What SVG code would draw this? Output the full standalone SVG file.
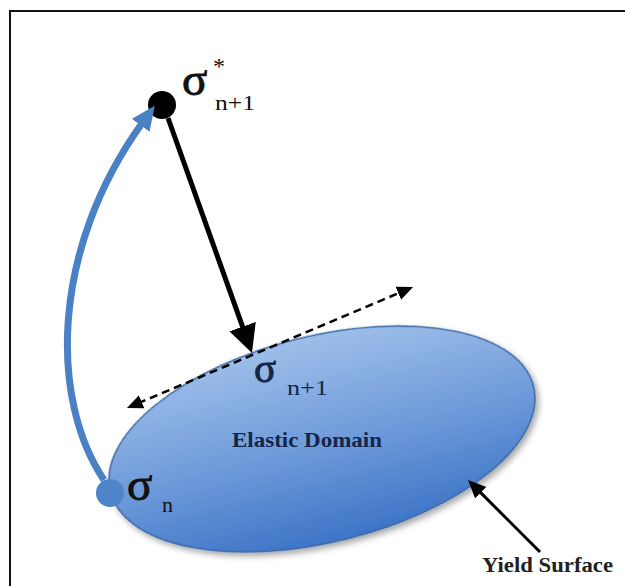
<svg xmlns="http://www.w3.org/2000/svg" width="625" height="586" viewBox="0 0 625 586">
<style>
.lbl{font-family:"Liberation Serif","Times New Roman",serif;}
.sigma{stroke-width:0.9;}
.sig{fill:#111;stroke:#111;}
.sub{fill:#111;}
.navy{fill:#14264a;stroke:#14264a;}
.navysub{fill:#14264a;}
.frame{stroke:#111;stroke-width:2;fill:none;}
</style>
<defs>
<linearGradient id="gFill" x1="0" y1="330" x2="0" y2="550" gradientUnits="userSpaceOnUse">
<stop offset="0" stop-color="#a0c0ea"/>
<stop offset="0.5" stop-color="#709cda"/>
<stop offset="1" stop-color="#3a72c6"/>
</linearGradient>
<filter id="shadow" x="-20%" y="-20%" width="140%" height="150%">
<feDropShadow dx="2" dy="4" stdDeviation="3" flood-color="#000" flood-opacity="0.35"/>
</filter>
<marker id="headBlack" markerUnits="userSpaceOnUse" markerWidth="30" markerHeight="30" refX="4" refY="14" orient="auto">
<path d="M0,0 L28,14 L0,28 z" fill="#000"/>
</marker>
<marker id="headDash" markerUnits="userSpaceOnUse" markerWidth="18" markerHeight="14" refX="4" refY="7" orient="auto-start-reverse">
<path d="M0,0 L16,7 L0,14 z" fill="#000"/>
</marker>
<marker id="headYield" markerUnits="userSpaceOnUse" markerWidth="20" markerHeight="18" refX="4" refY="8" orient="auto">
<path d="M0,0 L18,8 L0,16 z" fill="#000"/>
</marker>
<marker id="headBlue" markerUnits="userSpaceOnUse" markerWidth="26" markerHeight="24" refX="4" refY="11" orient="auto">
<path d="M0,0 L24,11 L0,22 z" fill="#4a80c4"/>
</marker>
</defs>
<rect width="625" height="586" fill="#fff"/>
<path class="frame" d="M10,586 L10,11 L625,11"/>

<g id="elastic-domain">
<ellipse cx="322" cy="439" rx="218" ry="103" transform="rotate(-14 322 439)" fill="url(#gFill)" stroke="#3a68a6" stroke-width="1.5" filter="url(#shadow)"/>
<text class="lbl navysub" x="232" y="447" font-size="21" font-weight="bold" textLength="150" lengthAdjust="spacingAndGlyphs">Elastic Domain</text>
</g>

<g id="sigma-n">
<circle cx="110" cy="493" r="14" fill="#4f84c8"/>
<text class="lbl sig sigma" x="127" y="500" font-size="47">σ</text>
<text class="lbl sub" x="162" y="512" font-size="22">n</text>
</g>

<g id="sigma-n1">
<text class="lbl navy sigma" x="254" y="382" font-size="41">σ</text>
<text class="lbl navysub" x="287" y="395" font-size="22" textLength="41" lengthAdjust="spacingAndGlyphs">n+1</text>
</g>

<g id="sigma-trial">
<circle cx="162" cy="105" r="14" fill="#000"/>
<text class="lbl sig sigma" x="182" y="95" font-size="47">σ</text>
<text class="lbl sub" x="213" y="74" font-size="24">*</text>
<text class="lbl sub" x="215" y="110" font-size="22" textLength="40" lengthAdjust="spacingAndGlyphs">n+1</text>
</g>

<g id="yield-surface-label">
<text class="lbl" x="482" y="572" font-size="20" font-weight="bold" fill="#222" textLength="131" lengthAdjust="spacingAndGlyphs">Yield Surface</text>
</g>

<g id="connectors">
<path d="M104,480 C50,400 50,250 143,122" fill="none" stroke="#4a80c4" stroke-width="7" marker-end="url(#headBlue)"/>
<line x1="168" y1="118" x2="243.9" y2="330.4" stroke="#000" stroke-width="5" marker-end="url(#headBlack)"/>
<line x1="138" y1="403.3" x2="402" y2="291.7" stroke="#000" stroke-width="2.5" stroke-dasharray="8,5" marker-start="url(#headDash)" marker-end="url(#headDash)"/>
<line x1="540" y1="552" x2="477.9" y2="489.9" stroke="#000" stroke-width="3" marker-end="url(#headYield)"/>
</g>
</svg>
